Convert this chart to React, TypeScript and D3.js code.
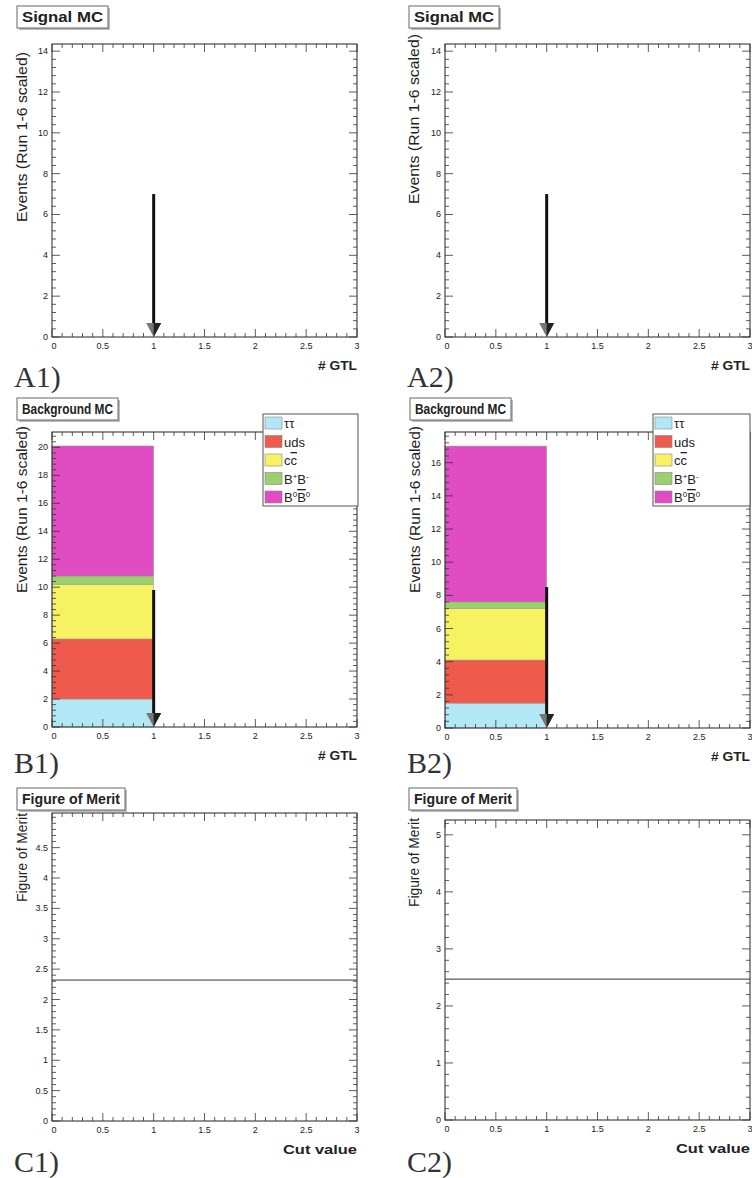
import React from 'react';
import * as d3 from 'd3';

// ---------- data ----------
const X_DOMAIN = [0, 3];
const X_TICKS = [0, 0.5, 1, 1.5, 2, 2.5, 3];
const X_TICK_LABELS = ['0', '0.5', '1', '1.5', '2', '2.5', '3'];

const CUT_VALUE = 1;

const SIGNAL_YMAX = [14.35, 14.35];
const SIGNAL_Y_TICKS = [0, 2, 4, 6, 8, 10, 12, 14];
const SIGNAL_ARROW_TOP = [7.0, 7.0];

const BG_CATEGORIES = ['ττ', 'uds', 'cc', 'B+B-', 'B0B0'];
const BG_COLORS = ['#b2e8f6', '#ee5a4c', '#f6f262', '#9cd06c', '#e04cc2'];
const BG_B1 = [2.0, 4.3, 3.9, 0.6, 9.3];
const BG_B2 = [1.5, 2.6, 3.1, 0.4, 9.4];
const BG_YMAX = [21.1, 17.85];
const BG_B1_Y_TICKS = [0, 2, 4, 6, 8, 10, 12, 14, 16, 18, 20];
const BG_B2_Y_TICKS = [0, 2, 4, 6, 8, 10, 12, 14, 16];
const BG_ARROW_TOP = [9.8, 8.5];

const FOM_VALUES = [2.32, 2.47];
const FOM_YMAX = [5.07, 5.26];
const FOM_C1_Y_TICKS = [0, 0.5, 1, 1.5, 2, 2.5, 3, 3.5, 4, 4.5];
const FOM_C2_Y_TICKS = [0, 1, 2, 3, 4, 5];

const FONT = "'Liberation Sans', Arial, Helvetica, sans-serif";
const SERIF = "'Liberation Serif', 'Times New Roman', serif";

type PanelCfg = {
  L: number; R: number; T: number; B: number;
  ymax: number; yTicks: number[]; yMinor: number;
  title: string; titleBox: [number, number, number, number];
  yTitle: string; yTitleX: number; yTitleEnd: number; yTitleLen: number;
  xTitle: string; xTitleLen: number;
  tag: string; tagX: number; tagY: number;
};

function Frame({ c, xs, ys }: { c: PanelCfg; xs: any; ys: any }) {
  const xMinor = d3.range(0, 3.0001, 0.1);
  const yMinor = d3.range(0, c.ymax, c.yMinor);
  const els: any[] = [];
  xMinor.forEach((v, i) => {
    const isMajor = Math.abs(v * 2 - Math.round(v * 2)) < 1e-6;
    const len = isMajor ? 8 : 4;
    const x = xs(v);
    els.push(<line key={'xb' + i} x1={x} x2={x} y1={c.B} y2={c.B - len} stroke="#333" strokeWidth={0.8} />);
    els.push(<line key={'xt' + i} x1={x} x2={x} y1={c.T} y2={c.T + len} stroke="#333" strokeWidth={0.8} />);
  });
  yMinor.forEach((v, i) => {
    const isMajor = c.yTicks.some((t) => Math.abs(t - v) < 1e-6);
    const len = isMajor ? 8 : 4;
    const y = ys(v);
    els.push(<line key={'yl' + i} x1={c.L} x2={c.L + len} y1={y} y2={y} stroke="#333" strokeWidth={0.8} />);
    els.push(<line key={'yr' + i} x1={c.R} x2={c.R - len} y1={y} y2={y} stroke="#333" strokeWidth={0.8} />);
  });
  return (
    <g>
      <rect x={c.L} y={c.T} width={c.R - c.L} height={c.B - c.T} fill="none" stroke="#222" strokeWidth={1} />
      {els}
      {X_TICKS.map((v, i) => (
        <text key={'xl' + i} x={xs(v) + (i === 0 ? 2 : 0)} y={c.B + 12} fontSize={9} fontFamily={FONT} textAnchor="middle" fill="#222">
          {X_TICK_LABELS[i]}
        </text>
      ))}
      {c.yTicks.map((v, i) => (
        <text key={'ylab' + i} x={c.L - 4} y={ys(v) + 3} fontSize={9} fontFamily={FONT} textAnchor="end" fill="#222">
          {String(v)}
        </text>
      ))}
    </g>
  );
}

function Labels({ c }: { c: PanelCfg }) {
  const [bx, by, bw, bh] = c.titleBox;
  return (
    <g>
      <rect x={bx + 2} y={by + 2} width={bw} height={bh} fill="#bbb" />
      <rect x={bx} y={by} width={bw} height={bh} fill="#fff" stroke="#666" strokeWidth={1} />
      <text x={bx + 5} y={by + bh / 2 + 5} fontSize={14} fontWeight="bold" fontFamily={FONT} fill="#222"
        textLength={bw - 10} lengthAdjust="spacingAndGlyphs">
        {c.title}
      </text>
      <text
        transform={`translate(${c.yTitleX},${c.yTitleEnd}) rotate(-90)`}
        fontSize={15} fontFamily={FONT} textAnchor="end" fill="#222"
        textLength={c.yTitleLen} lengthAdjust="spacingAndGlyphs"
      >
        {c.yTitle}
      </text>
      <text x={c.R} y={c.B + 33} fontSize={12} fontWeight="bold" fontFamily={FONT} textAnchor="end" fill="#222"
        textLength={c.xTitleLen} lengthAdjust="spacingAndGlyphs">
        {c.xTitle}
      </text>
      <text x={c.tagX} y={c.tagY} fontSize={30} fontFamily={SERIF} fill="#333">
        {c.tag}
      </text>
    </g>
  );
}

function Arrow({ x, yTop, yBot }: { x: number; yTop: number; yBot: number }) {
  const hw = 7.5, hh = 14;
  return (
    <g>
      <line x1={x} x2={x} y1={yTop} y2={yBot - hh + 1} stroke="#111" strokeWidth={3} />
      <path d={`M${x - hw},${yBot - hh} L${x + hw},${yBot - hh} L${x},${yBot} Z`} fill="#777" />
      <path d={`M${x},${yBot - hh} L${x + hw},${yBot - hh} L${x},${yBot} Z`} fill="#222" />
    </g>
  );
}

function LegendLabel({ i, x, y }: { i: number; x: number; y: number }) {
  const name = BG_CATEGORIES[i];
  const common = { x, y, fontSize: 13, fontFamily: FONT, fill: '#222' } as any;
  if (name === 'cc') {
    return (
      <text {...common}>
        <tspan>c</tspan>
        <tspan style={{ textDecoration: 'overline' }}>c</tspan>
      </text>
    );
  }
  if (name === 'B+B-') {
    return (
      <text {...common}>
        <tspan>B</tspan>
        <tspan fontSize={8} dy={-5}>+</tspan>
        <tspan dy={5}>B</tspan>
        <tspan fontSize={8} dy={-5}>-</tspan>
      </text>
    );
  }
  if (name === 'B0B0') {
    return (
      <text {...common}>
        <tspan>B</tspan>
        <tspan fontSize={8} dy={-5}>0</tspan>
        <tspan dy={5} style={{ textDecoration: 'overline' }}>B</tspan>
        <tspan fontSize={8} dy={-5}>0</tspan>
      </text>
    );
  }
  return <text {...common}>{name}</text>;
}

function Legend({ x, y, w, h }: { x: number; y: number; w: number; h: number }) {
  return (
    <g>
      <rect x={x} y={y} width={w} height={h} fill="#fff" stroke="#555" strokeWidth={1} />
      {BG_CATEGORIES.map((_, i) => {
        const cy = y + 9 + i * 18.5;
        return (
          <g key={i}>
            <rect x={x + 2} y={cy - 6} width={17} height={12} fill={BG_COLORS[i]} stroke="#888" strokeWidth={0.6} />
            <LegendLabel i={i} x={x + 21} y={cy + 5} />
          </g>
        );
      })}
    </g>
  );
}

const SIG_BASE = {
  ymax: 14.35, yTicks: SIGNAL_Y_TICKS, yMinor: 0.4, title: 'Signal MC',
  yTitle: 'Events (Run 1-6 scaled)', yTitleLen: 170, xTitle: '# GTL', xTitleLen: 39,
};

export default function App() {
  const cfgA1: PanelCfg = { ...SIG_BASE, L: 52, R: 357, T: 44, B: 337, ymax: SIGNAL_YMAX[0], titleBox: [17, 6, 91, 22], yTitleX: 27, yTitleEnd: 52, tag: 'A1)', tagX: 14, tagY: 387 } as PanelCfg;
  const cfgA2: PanelCfg = { ...SIG_BASE, L: 445, R: 750, T: 44, B: 337, ymax: SIGNAL_YMAX[1], titleBox: [409, 6, 90, 22], yTitleX: 419, yTitleEnd: 34, tag: 'A2)', tagX: 407, tagY: 387 } as PanelCfg;
  const cfgB1: PanelCfg = { L: 52, R: 357, T: 432, B: 727, ymax: BG_YMAX[0], yTicks: BG_B1_Y_TICKS, yMinor: 0.4, title: 'Background MC', titleBox: [17, 398, 101, 22], yTitle: 'Events (Run 1-6 scaled)', yTitleX: 27, yTitleEnd: 426, yTitleLen: 167, xTitle: '# GTL', xTitleLen: 39, tag: 'B1)', tagX: 14, tagY: 773 };
  const cfgB2: PanelCfg = { L: 445, R: 750, T: 432, B: 728, ymax: BG_YMAX[1], yTicks: BG_B2_Y_TICKS, yMinor: 0.4, title: 'Background MC', titleBox: [410, 398, 101, 22], yTitle: 'Events (Run 1-6 scaled)', yTitleX: 420, yTitleEnd: 426, yTitleLen: 167, xTitle: '# GTL', xTitleLen: 39, tag: 'B2)', tagX: 407, tagY: 773 };
  const cfgC1: PanelCfg = { L: 52, R: 357, T: 813, B: 1121, ymax: FOM_YMAX[0], yTicks: FOM_C1_Y_TICKS, yMinor: 0.1, title: 'Figure of Merit', titleBox: [17, 788, 108, 22], yTitle: 'Figure of Merit', yTitleX: 27, yTitleEnd: 813, yTitleLen: 89, xTitle: 'Cut value', xTitleLen: 74, tag: 'C1)', tagX: 14, tagY: 1172 };
  const cfgC2: PanelCfg = { L: 445, R: 750, T: 820, B: 1120, ymax: FOM_YMAX[1], yTicks: FOM_C2_Y_TICKS, yMinor: 0.2, title: 'Figure of Merit', titleBox: [409, 788, 108, 22], yTitle: 'Figure of Merit', yTitleX: 419, yTitleEnd: 818, yTitleLen: 89, xTitle: 'Cut value', xTitleLen: 74, tag: 'C2)', tagX: 407, tagY: 1172 };

  const mk = (c: PanelCfg) => ({
    xs: d3.scaleLinear().domain(X_DOMAIN).range([c.L, c.R]),
    ys: d3.scaleLinear().domain([0, c.ymax]).range([c.B, c.T]),
  });

  const sigPanels = [cfgA1, cfgA2];
  const bgPanels = [cfgB1, cfgB2];
  const bgData = [BG_B1, BG_B2];
  const fomPanels = [cfgC1, cfgC2];

  return (
    <svg width={752} height={1178} style={{ position: 'absolute', left: 0, top: 0, background: '#fff' }}>
      <rect width={752} height={1178} fill="#fff" />
      {sigPanels.map((c, k) => {
        const { xs, ys } = mk(c);
        return (
          <g key={'s' + k}>
            <Frame c={c} xs={xs} ys={ys} />
            <Arrow x={xs(CUT_VALUE)} yTop={ys(SIGNAL_ARROW_TOP[k])} yBot={c.B} />
            <Labels c={c} />
          </g>
        );
      })}
      {bgPanels.map((c, k) => {
        const { xs, ys } = mk(c);
        const vals = bgData[k];
        const cum = d3.cumsum(vals);
        return (
          <g key={'b' + k}>
            {vals.map((v, i) => (
              <rect key={i} x={xs(0)} width={xs(CUT_VALUE) - xs(0)} y={ys(cum[i])} height={ys(cum[i] - v) - ys(cum[i])}
                fill={BG_COLORS[i]} stroke="#999" strokeWidth={0.5} />
            ))}
            <Frame c={c} xs={xs} ys={ys} />
            <Arrow x={xs(CUT_VALUE)} yTop={ys(BG_ARROW_TOP[k])} yBot={c.B} />
            <Legend x={k === 0 ? 263 : 653} y={414} w={k === 0 ? 95 : 97} h={92} />
            <Labels c={c} />
          </g>
        );
      })}
      {fomPanels.map((c, k) => {
        const { xs, ys } = mk(c);
        const line = d3.line<number>().x((d) => xs(d)).y(() => ys(FOM_VALUES[k]));
        return (
          <g key={'f' + k}>
            <Frame c={c} xs={xs} ys={ys} />
            <path d={line(X_DOMAIN) || ''} stroke="#333" strokeWidth={1} fill="none" />
            <Labels c={c} />
          </g>
        );
      })}
    </svg>
  );
}
